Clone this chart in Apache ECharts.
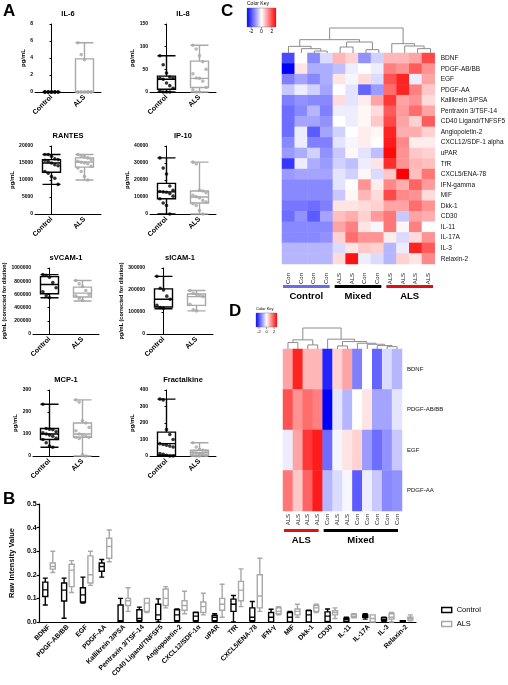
<!DOCTYPE html>
<html>
<head>
<meta charset="utf-8">
<script src="https://cdn.jsdelivr.net/npm/echarts@6/dist/echarts.min.js"></script>
<style>
html,body{margin:0;padding:0;background:#fff}
#main{width:508px;height:685px}
</style>
</head>
<body>
<div id="main"></div>
<script>
// ---------- panel A data ----------
const groups = ['Control', 'ALS'];

const il6Box = [[0, 0, 0, 0, 0], [0, 0, 0, 3.9, 5.8]];
const il6Ctrl = [0, 0, 0, 0, 0, 0, 0, 0, 0, 0, 0, 0, 0, 0];
const il6Als = [5.8, 4.4, 3.8, 0, 0, 0, 0, 0, 0, 0, 0, 0, 0, 0];

const il8Box = [[0, 6, 28, 35, 80], [0, 10, 30, 68, 103]];
const il8Ctrl = [80, 60, 42, 33, 31, 30, 28, 20, 14, 8, 3, 0, 0, 0];
const il8Als = [103, 95, 80, 67, 50, 40, 31, 30, 24, 10, 5, 0, 0];

const rantesBox = [[8700, 12300, 15000, 16000, 17500], [10000, 13800, 15300, 16500, 17500]];
const rantesCtrl = [17500, 17500, 17000, 16200, 16000, 15800, 15500, 15000, 14500, 14200, 12500, 12000, 11000, 10500, 8700];
const rantesAls = [17500, 17000, 16800, 16500, 16000, 15500, 15200, 15000, 14800, 14000, 13500, 12500, 11000, 10000];

const ip10Box = [[0, 9000, 13000, 18000, 33000], [0, 6500, 10000, 13500, 30500]];
const ip10Ctrl = [33000, 27000, 23500, 16500, 14000, 13200, 13000, 12800, 12000, 10500, 9000, 6500, 5000, 0];
const ip10Als = [30500, 29500, 14000, 13500, 12500, 11000, 10200, 9500, 8000, 7000, 6000, 5000, 2000, 0];

const svcamBox = [[550000, 610000, 750000, 870000, 900000], [500000, 560000, 620000, 710000, 810000]];
const svcamCtrl = [900000, 890000, 860000, 780000, 700000, 640000, 580000, 550000];
const svcamAls = [810000, 760000, 720000, 660000, 600000, 580000, 540000, 510000];

const sicamBox = [[115000, 123000, 158000, 205000, 262000], [105000, 130000, 170000, 182000, 198000]];
const sicamCtrl = [262000, 208000, 200000, 172000, 158000, 130000, 120000, 117000];
const sicamAls = [198000, 185000, 180000, 175000, 170000, 135000, 110000, 105000];

const mcp1Box = [[40, 75, 100, 125, 235], [0, 85, 100, 150, 255]];
const mcp1Ctrl = [235, 125, 122, 120, 110, 105, 100, 95, 90, 80, 75, 60, 45, 40];
const mcp1Als = [255, 245, 160, 150, 130, 115, 100, 95, 90, 85, 85, 80, 5, 0];

const fracBox = [[0, 5, 75, 145, 345], [0, 5, 20, 35, 80]];
const fracCtrl = [345, 340, 160, 130, 100, 75, 70, 65, 60, 55, 15, 10, 5, 0, 0];
const fracAls = [80, 55, 40, 35, 30, 25, 20, 15, 10, 5, 5, 0, 0];

// ---------- panel B data ----------
const bCats = ['BDNF', 'PDGF-AB/BB', 'EGF', 'PDGF-AA', 'Kallikrein 3/PSA', 'Pentraxin 3/TSF-14',
  'CD40 Ligand/TNFSF5', 'Angiopoietin-2', 'CXCL12/SDF-1\u03b1', 'uPAR', 'TfR', 'CXCL5/ENA-78',
  'IFN-\u03b3', 'MIF', 'Dkk-1', 'CD30', 'IL-11', 'IL-17A', 'IL-3', 'Relaxin-2'];
const bCtrl = [
  [0.072, 0.108, 0.136, 0.169, 0.186], [0.016, 0.089, 0.135, 0.165, 0.186], [0.08, 0.085, 0.115, 0.145, 0.19],
  [0.19, 0.215, 0.235, 0.25, 0.265], [0, 0, 0.005, 0.072, 0.1], [0, 0.005, 0.015, 0.052, 0.063],
  [0, 0.01, 0.03, 0.075, 0.098], [0, 0.005, 0.03, 0.052, 0.055], [0, 0.005, 0.025, 0.04, 0.042],
  [0, 0.005, 0.02, 0.028, 0.035], [0, 0.045, 0.075, 0.097, 0.112], [0, 0.005, 0.02, 0.06, 0.087],
  [0, 0, 0.02, 0.04, 0.054], [0, 0, 0.02, 0.04, 0.045], [0, 0, 0.03, 0.048, 0.05],
  [0, 0.002, 0.025, 0.043, 0.055], [0, 0.002, 0.01, 0.016, 0.02], [0.012, 0.02, 0.025, 0.03, 0.035],
  [0, 0.005, 0.01, 0.018, 0.02], [0, 0.001, 0.003, 0.005, 0.006]];
const bAls = [
  [0.21, 0.224, 0.235, 0.25, 0.30], [0.125, 0.15, 0.22, 0.245, 0.26], [0.155, 0.165, 0.2, 0.28, 0.30],
  [0.255, 0.27, 0.32, 0.355, 0.39], [0.045, 0.07, 0.09, 0.10, 0.145], [0.04, 0.045, 0.08, 0.1, 0.1],
  [0.06, 0.07, 0.1, 0.14, 0.15], [0.035, 0.05, 0.07, 0.09, 0.13], [0.03, 0.04, 0.065, 0.085, 0.122],
  [0.02, 0.05, 0.075, 0.1, 0.16], [0.065, 0.09, 0.135, 0.172, 0.225], [0.045, 0.06, 0.11, 0.2, 0.27],
  [0.03, 0.035, 0.045, 0.06, 0.065], [0.02, 0.03, 0.045, 0.055, 0.075], [0.04, 0.045, 0.06, 0.07, 0.075],
  [0.015, 0.03, 0.04, 0.048, 0.06], [0.018, 0.02, 0.025, 0.033, 0.035], [0, 0, 0.015, 0.03, 0.03],
  [0, 0.012, 0.02, 0.035, 0.04], [0.005, 0.008, 0.015, 0.02, 0.03]];

// ---------- panel C data ----------
const cCols = ['Con', 'Con', 'Con', 'Con', 'ALS', 'ALS', 'Con', 'Con', 'ALS', 'ALS', 'ALS', 'ALS'];
const cRows = ['BDNF', 'PDGF-AB/BB', 'EGF', 'PDGF-AA', 'Kallikrein 3/PSA', 'Pentraxin 3/TSF-14',
  'CD40 Ligand/TNFSF5', 'Angiopoietin-2', 'CXCL12/SDF-1 alpha', 'uPAR', 'TfR', 'CXCL5/ENA-78',
  'IFN-gamma', 'MIF', 'Dkk-1', 'CD30', 'IL-11', 'IL-17A', 'IL-3', 'Relaxin-2'];
const cValues = [
  [-2.0, 0, -1.3, -0.4, 0.8, 0.5, -1.2, -0.5, 0.8, 0.8, 1.0, 2.0],
  [-2.8, 0.3, -0.9, -0.9, -0.7, -0.2, 0, -0.2, 1.4, 1.2, 1.8, 1.2],
  [-1.4, -1.0, -1.3, -0.9, 0.3, -0.1, 0.4, -0.4, 1.9, 2.4, -0.2, 1.0],
  [-0.6, -0.2, -0.5, -1.0, 0, -0.3, -1.7, -1.1, 1.6, 2.4, 1.4, 0.6],
  [-1.4, -1.2, -1.3, -1.3, 0.4, -0.3, 0.2, 1.0, 2.2, 1.0, 1.2, 0.4],
  [-1.6, -1.3, -0.8, -1.4, -0.2, -0.2, 0.1, 0.4, 1.8, 1.1, 1.6, 1.0],
  [-1.6, -1.0, -1.0, -1.2, 0, -0.2, 0.1, 0.6, 2.0, 1.0, 0.5, 1.8],
  [-1.6, -0.2, -1.8, -1.0, -0.5, 0, 0.2, 0.1, 2.4, 0.9, 0.9, 0.5],
  [-1.3, -0.2, -1.4, -1.4, -0.3, -0.1, 0.2, 0, 2.5, 1.3, 0.2, 0.2],
  [-1.1, -0.9, -0.5, -1.2, -0.6, 0.1, -0.3, -0.7, 2.7, 1.2, 0.6, 0.5],
  [-2.2, -0.2, -0.9, -1.1, -0.5, -0.7, -0.2, 0.3, 2.3, 1.2, 0.8, 0.7],
  [-1.1, -1.0, -1.0, -1.0, -0.3, -0.5, 0.1, -0.4, 0.6, 2.8, 0.7, 1.5],
  [-1.3, -1.3, -1.3, -1.3, -0.3, 0, 1.2, 0.2, 1.3, 0.9, 1.7, 1.1],
  [-1.3, -1.3, -1.3, -1.3, -0.6, 0.1, 0.8, 0.4, 2.0, 1.3, 1.2, 0.4],
  [-1.5, -1.5, -1.6, -1.4, 0.3, 0.3, 0.4, 0.5, 1.0, 1.0, 1.6, 1.2],
  [-1.6, -1.2, -1.8, -1.0, 0.7, 0.9, 0.5, 1.1, 1.5, -0.6, 1.0, 0.9],
  [-1.3, -1.3, -1.3, -1.3, 1.0, 1.4, 0.3, -0.1, 1.5, 0.1, 1.4, 0],
  [-1.3, -1.3, -1.3, -1.2, 0.5, 1.6, 1.2, 1.2, 0.2, -0.4, 0.4, 1.2],
  [-0.8, -0.8, -0.8, -0.8, -0.4, 0.3, 0.6, 0.5, -0.8, -0.2, 2.4, 1.8],
  [-0.8, -0.8, -0.8, -0.8, 0.4, 2.6, -0.2, -0.4, -0.8, 0.5, 0.3, 1.3]];
// linkage: [childA, childB, height]; leaves 0..11, merges numbered from 12
const cLinks = [[2, 3, 6], [1, 12, 13], [0, 13, 20], [4, 5, 18], [6, 7, 10], [15, 16, 33],
  [14, 17, 40], [10, 11, 13], [9, 19, 21], [8, 20, 28], [18, 21, 75]];
const cGroups = [['Control', 0, 3], ['Mixed', 4, 7], ['ALS', 8, 11]];
const cKeyTicks = [-2, 0, 2];

// ---------- panel D data ----------
const dCols = ['ALS', 'ALS', 'ALS', 'ALS', 'Con', 'ALS', 'ALS', 'Con', 'Con', 'Con', 'Con', 'Con'];
const dRows = ['BDNF', 'PDGF-AB/BB', 'EGF', 'PDGF-AA'];
const dValues = [
  [1.0, 2.4, 0.8, 0.8, -2.4, 0.5, 1.0, -1.4, 0, -1.7, -0.4, -0.8],
  [1.9, 1.2, 1.6, 1.4, -2.8, -0.3, -0.8, 0, 0.3, -1.0, -1.0, -0.3],
  [-0.2, 1.0, 2.2, 2.5, -1.6, -0.1, 0.3, 0.5, -1.1, -1.6, -1.2, -0.6],
  [1.5, 0.6, 1.7, 2.5, -0.8, -0.4, -0.1, -1.8, -0.2, -0.6, -1.3, -1.2]];
const dLinks = [[0, 1, 19], [2, 3, 12], [12, 13, 27], [10, 11, 7], [9, 15, 10], [8, 16, 14],
  [7, 17, 17], [5, 6, 9], [19, 18, 22], [4, 20, 29], [14, 21, 62]];
const dGroups = [['ALS', 0, 3], ['Mixed', 4, 11]];
const dKeyTicks = [-2, 0, 2];

// ---------- styling ----------
const FONT = '"Liberation Sans", Arial, sans-serif';
const GRAY = '#a8a8a8';
const groupColor = { Control: '#6b6bea', Mixed: '#000', ALS: '#e01010' };
const HEAT = ['#0000ff', '#ffffff', '#ff0000'];
const HMIN = -2.8, HMAX = 2.8;

const grid = [], xAxis = [], yAxis = [], series = [], graphic = [];

function txt(x, y, s, size, opt) {
  graphic.push({
    type: 'text', silent: true, z: 100,
    style: Object.assign({ x: x, y: y, text: s, fill: '#000', font: 'bold ' + size + 'px ' + FONT,
      align: 'center', verticalAlign: 'middle' }, opt || {})
  });
}

// ---------- panel A ----------
const panelA = [
  { title: 'IL-6', box: il6Box, ctrl: il6Ctrl, als: il6Als, max: 8, step: 2, unit: 'pg/mL', gap: 8, left: 35, top: 24, h: 68 },
  { title: 'IL-8', box: il8Box, ctrl: il8Ctrl, als: il8Als, max: 150, step: 50, unit: 'pg/mL', gap: 14, left: 150, top: 24, h: 68 },
  { title: 'RANTES', box: rantesBox, ctrl: rantesCtrl, als: rantesAls, max: 20000, step: 5000, unit: 'pg/mL', gap: 19, left: 35, top: 146, h: 68 },
  { title: 'IP-10', box: ip10Box, ctrl: ip10Ctrl, als: ip10Als, max: 40000, step: 10000, unit: 'pg/mL', gap: 19, left: 150, top: 146, h: 68 },
  { title: 'sVCAM-1', box: svcamBox, ctrl: svcamCtrl, als: svcamAls, max: 1000000, step: 200000, unit: 'pg/mL (corrected for dilution)', gap: 24, left: 33, top: 268, h: 66 },
  { title: 'sICAM-1', box: sicamBox, ctrl: sicamCtrl, als: sicamAls, max: 300000, step: 100000, unit: 'pg/mL (corrected for dilution)', gap: 21, left: 147, top: 268, h: 66 },
  { title: 'MCP-1', box: mcp1Box, ctrl: mcp1Ctrl, als: mcp1Als, max: 300, step: 100, unit: 'pg/mL', gap: 12, left: 33, top: 390, h: 66 },
  { title: 'Fractalkine', box: fracBox, ctrl: fracCtrl, als: fracAls, max: 400, step: 100, unit: 'pg/mL', gap: 12, left: 150, top: 390, h: 66 }
];

function jitter(i) { return ((i % 5) - 2) * 0.1; }

panelA.forEach(function (p) {
  const gi = grid.length;
  const w = 66;
  grid.push({ left: p.left, top: p.top, width: w, height: p.h });
  const xc = xAxis.length;
  xAxis.push({
    type: 'category', gridIndex: gi, data: groups, boundaryGap: true,
    axisLine: { lineStyle: { color: '#000', width: 1 } },
    axisTick: { alignWithLabel: true, length: 2, lineStyle: { color: '#000' } },
    axisLabel: { rotate: 45, fontSize: 7, fontWeight: 'bold', color: '#000', margin: 4, interval: 0 }
  });
  const xv = xAxis.length;
  xAxis.push({ type: 'value', gridIndex: gi, min: -0.5, max: 1.5, show: false });
  const yi = yAxis.length;
  yAxis.push({
    type: 'value', gridIndex: gi, min: 0, max: p.max, interval: p.step,
    name: p.unit, nameLocation: 'middle', nameGap: p.gap,
    nameTextStyle: { fontSize: p.unit.length > 6 ? 5.5 : 6, fontWeight: 'bold', color: '#000' },
    axisLine: { show: true, lineStyle: { color: '#000', width: 1 } },
    axisTick: { show: true, length: 2, lineStyle: { color: '#000' } },
    splitLine: { show: false },
    axisLabel: { fontSize: 5, fontWeight: 'bold', color: '#000', margin: 2, formatter: function (v) { return String(v); } }
  });
  series.push({
    type: 'boxplot', xAxisIndex: xc, yAxisIndex: yi, boxWidth: [18, 18], silent: true, z: 2,
    itemStyle: { color: '#fff', borderWidth: 1.4 },
    data: p.box.map(function (v, i) {
      return { value: v, itemStyle: { borderColor: i ? GRAY : '#000' } };
    })
  });
  [p.ctrl, p.als].forEach(function (pts, g) {
    series.push({
      type: 'scatter', xAxisIndex: xv, yAxisIndex: yi, symbolSize: 3.6, z: 5, silent: true,
      itemStyle: { color: g ? GRAY : '#000' },
      data: pts.map(function (v, i) { return [g + jitter(i), v]; })
    });
  });
  txt(p.left + w / 2, p.top - 10, p.title, 7.5);
});

// ---------- panel B ----------
(function () {
  const gi = grid.length;
  grid.push({ left: 38, top: 504, width: 378, height: 118 });
  const xi = xAxis.length;
  xAxis.push({
    type: 'category', gridIndex: gi, data: bCats,
    axisLine: { lineStyle: { color: '#000', width: 1.2 } },
    axisTick: { alignWithLabel: true, length: 3, lineStyle: { color: '#000', width: 1.2 } },
    axisLabel: { rotate: 45, fontSize: 6.8, fontWeight: 'bold', color: '#000', margin: 4, interval: 0 }
  });
  const yi = yAxis.length;
  yAxis.push({
    type: 'value', gridIndex: gi, min: 0, max: 0.5, interval: 0.1,
    name: 'Raw Intensity Value', nameLocation: 'middle', nameGap: 22,
    nameTextStyle: { fontSize: 7.5, fontWeight: 'bold', color: '#000' },
    axisLine: { show: true, lineStyle: { color: '#000', width: 1.2 } },
    axisTick: { show: true, length: 3, lineStyle: { color: '#000', width: 1.2 } },
    splitLine: { show: false },
    axisLabel: { fontSize: 7, fontWeight: 'bold', color: '#000', margin: 3, formatter: function (v) { return v.toFixed(1); } }
  });
  series.push({
    type: 'boxplot', name: 'Control', xAxisIndex: xi, yAxisIndex: yi, boxWidth: [5, 5], silent: true,
    itemStyle: { color: '#fff', borderColor: '#000', borderWidth: 1.4 }, data: bCtrl
  });
  series.push({
    type: 'boxplot', name: 'ALS', xAxisIndex: xi, yAxisIndex: yi, boxWidth: [5, 5], silent: true,
    itemStyle: { color: '#fff', borderColor: GRAY, borderWidth: 1.4 }, data: bAls
  });
})();

// ---------- heatmaps + dendrograms ----------
function dendroSegments(links, n) {
  const pos = [], hgt = [];
  for (let i = 0; i < n; i++) { pos.push(i); hgt.push(0); }
  return links.map(function (l) {
    const a = l[0], b = l[1], h = l[2];
    const seg = [pos[a], hgt[a], pos[b], hgt[b], h];
    pos.push((pos[a] + pos[b]) / 2); hgt.push(h);
    return seg;
  });
}

const heatSeries = [];
function heatPanel(cfg) {
  // heatmap
  const gi = grid.length;
  grid.push({ left: cfg.left, top: cfg.top, width: cfg.width, height: cfg.height });
  const xi = xAxis.length;
  xAxis.push({
    type: 'category', gridIndex: gi, data: cfg.cols,
    axisLine: { show: false }, axisTick: { show: false }, splitLine: { show: false },
    axisLabel: { rotate: 90, fontSize: 6, color: '#222', margin: cfg.colMargin, interval: 0 }
  });
  const yi = yAxis.length;
  yAxis.push({
    type: 'category', gridIndex: gi, data: cfg.rows, inverse: true, position: 'right',
    axisLine: { show: false }, axisTick: { show: false }, splitLine: { show: false },
    axisLabel: { fontSize: cfg.rowFont, color: '#111', margin: cfg.rowMargin, interval: 0 }
  });
  const data = [];
  cfg.values.forEach(function (row, r) {
    row.forEach(function (v, c) { data.push([c, r, v]); });
  });
  heatSeries.push(series.length);
  series.push({ type: 'heatmap', xAxisIndex: xi, yAxisIndex: yi, data: data, silent: true, itemStyle: { borderWidth: 0 } });

  // dendrogram
  const gd = grid.length;
  grid.push({ left: cfg.left, top: cfg.dTop, width: cfg.width, height: cfg.top - cfg.dTop });
  const dxi = xAxis.length;
  xAxis.push({ type: 'value', gridIndex: gd, min: -0.5, max: cfg.cols.length - 0.5, show: false });
  const dyi = yAxis.length;
  const segs = dendroSegments(cfg.links, cfg.cols.length);
  const hMax = Math.max.apply(null, cfg.links.map(function (l) { return l[2]; }));
  yAxis.push({ type: 'value', gridIndex: gd, min: 0, max: hMax, show: false });
  series.push({
    type: 'custom', xAxisIndex: dxi, yAxisIndex: dyi, silent: true, data: segs,
    renderItem: function (params, api) {
      const p1 = api.coord([api.value(0), api.value(1)]);
      const p2 = api.coord([api.value(0), api.value(4)]);
      const p3 = api.coord([api.value(2), api.value(4)]);
      const p4 = api.coord([api.value(2), api.value(3)]);
      return { type: 'polyline', shape: { points: [p1, p2, p3, p4] }, style: { stroke: '#8c8c8c', lineWidth: 1, fill: null } };
    }
  });

  // group bars
  const cw = cfg.width / cfg.cols.length;
  cfg.groups.forEach(function (g) {
    const x0 = cfg.left + g[1] * cw + 1, x1 = cfg.left + (g[2] + 1) * cw - 4;
    graphic.push({ type: 'rect', silent: true, shape: { x: x0, y: cfg.barY, width: x1 - x0, height: 3 }, style: { fill: groupColor[g[0]] } });
    txt((x0 + x1) / 2, cfg.barY + 11, g[0], 9.5);
  });

  // colour key
  const k = cfg.key;
  graphic.push({
    type: 'rect', silent: true, shape: { x: k.x, y: k.y, width: k.w, height: k.h },
    style: {
      stroke: '#666', lineWidth: 0.4,
      fill: new echarts.graphic.LinearGradient(0, 0, 1, 0, [
        { offset: 0, color: HEAT[0] }, { offset: 0.5, color: HEAT[1] }, { offset: 1, color: HEAT[2] }])
    }
  });
  txt(k.x, k.y - 4, 'Color Key', k.font, { align: 'left', font: k.font + 'px ' + FONT });
  cfg.ticks.forEach(function (t) {
    const x = k.x + (t - HMIN) / (HMAX - HMIN) * k.w;
    graphic.push({ type: 'line', silent: true, shape: { x1: x, y1: k.y + k.h, x2: x, y2: k.y + k.h + 2 }, style: { stroke: '#333', lineWidth: 0.5 } });
    txt(x, k.y + k.h + 5, String(t), k.font, { font: k.font + 'px ' + FONT });
  });
}

heatPanel({
  cols: cCols, rows: cRows, values: cValues, links: cLinks, groups: cGroups, ticks: cKeyTicks,
  left: 282, top: 53, width: 155, height: 211, dTop: 28, colMargin: 9, rowMargin: 6, rowFont: 6.5,
  barY: 285, key: { x: 247, y: 8, w: 29, h: 19, font: 5 }
});
heatPanel({
  cols: dCols, rows: dRows, values: dValues, links: dLinks, groups: dGroups, ticks: dKeyTicks,
  left: 283, top: 349, width: 119, height: 162, dTop: 328, colMargin: 3, rowMargin: 5, rowFont: 6,
  barY: 529, key: { x: 256, y: 313, w: 21, h: 14, font: 4 }
});

// panel letters
txt(3, 11, 'A', 17, { align: 'left' });
txt(3, 499, 'B', 17, { align: 'left' });
txt(221, 11, 'C', 17, { align: 'left' });
txt(229, 311, 'D', 17, { align: 'left' });

const chart = echarts.init(document.getElementById('main'), null, { renderer: 'canvas' });
chart.setOption({
  animation: false,
  backgroundColor: '#fff',
  textStyle: { fontFamily: FONT },
  grid: grid,
  xAxis: xAxis,
  yAxis: yAxis,
  visualMap: [{
    type: 'continuous', show: false, min: HMIN, max: HMAX, seriesIndex: heatSeries,
    inRange: { color: HEAT }
  }],
  legend: {
    left: 436, top: 601, orient: 'vertical', itemWidth: 10, itemHeight: 5, itemGap: 6,
    textStyle: { fontSize: 7.5, color: '#000' },
    data: [
      { name: 'Control', icon: 'rect', itemStyle: { color: '#fff', borderColor: '#000', borderWidth: 1.4 } },
      { name: 'ALS', icon: 'rect', itemStyle: { color: '#fff', borderColor: GRAY, borderWidth: 1.4 } }
    ]
  },
  series: series,
  graphic: graphic
});
</script>
</body>
</html>
